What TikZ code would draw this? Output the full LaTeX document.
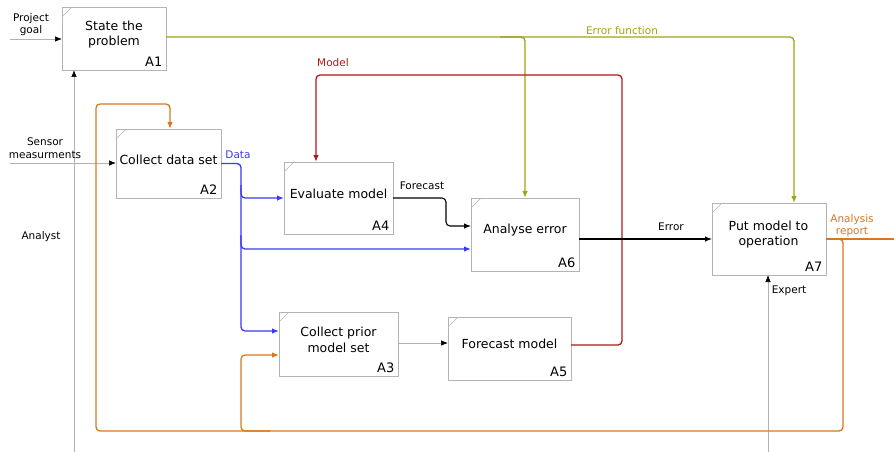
\documentclass[tikz,border=0pt]{standalone}
\usepackage{fontspec}
\setmainfont{DejaVu Sans}
\usetikzlibrary{arrows.meta}
\definecolor{olive2}{HTML}{A3A312}
\definecolor{orng}{HTML}{D9771F}
\definecolor{dred}{HTML}{B01A1A}
\definecolor{blu}{HTML}{3A3AF5}
\definecolor{boxgray}{HTML}{B4B4B4}
\begin{document}
\begin{tikzpicture}[x=1pt,y=-1pt,
  box/.style={draw=boxgray, line width=0.8pt, inner sep=0pt, outer sep=0pt, anchor=north west, fill=white},
  corner/.style={draw=boxgray, line width=0.5pt},
  ttl/.style={font=\fontsize{12.5}{15.5}\selectfont, align=center, inner sep=0pt},
  aid/.style={font=\fontsize{13}{15}\selectfont, anchor=south east, inner sep=3.5pt},
  lbl/.style={font=\fontsize{10.5}{12.7}\selectfont, align=center, inner sep=0pt},
  tip/.style={-{Latex[length=7pt,width=5.5pt]}},
  gline/.style={draw=gray!60, line width=0.7pt, -{Latex[length=7pt,width=5.5pt,black]}},
  cline/.style={line width=1.3pt, rounded corners=4pt, tip},
]
\useasboundingbox[fill=white] (0,0) rectangle (894,452);

% boxes
\node[box, minimum width=104pt, minimum height=63pt] (a1) at (62,7) {};
\node[box, minimum width=105pt, minimum height=69pt] (a2) at (116,129) {};
\node[box, minimum width=119pt, minimum height=64pt] (a3) at (279,312) {};
\node[box, minimum width=109pt, minimum height=72pt] (a4) at (284,162) {};
\node[box, minimum width=123pt, minimum height=63pt] (a5) at (448,317) {};
\node[box, minimum width=108pt, minimum height=73pt] (a6) at (471,198) {};
\node[box, minimum width=114pt, minimum height=72pt] (a7) at (712,203) {};

\foreach \b in {a1,a2,a3,a4,a5,a6,a7}{
  \draw[corner] ([yshift=-10pt]\b.north west) -- ([xshift=10pt]\b.north west);
}

\node[ttl] (a1t) at (114,34.7) {State the\\problem};
\node[ttl] (a2t) at (168.5,159.5) {Collect data set};
\node[ttl] (a3t) at (338.5,339.7) {Collect prior\\model set};
\node[ttl] (a4t) at (338.5,193.5) {Evaluate model};
\node[ttl] (a5t) at (509.5,343.5) {Forecast model};
\node[ttl] (a6t) at (525,230) {Analyse error};
\node[ttl] (a7t) at (768.5,234.7) {Put model to\\operation};

\node[aid] (a1id) at (a1.south east) {A1};
\node[aid] (a2id) at (a2.south east) {A2};
\node[aid] (a3id) at (a3.south east) {A3};
\node[aid] (a4id) at (a4.south east) {A4};
\node[aid] (a5id) at (a5.south east) {A5};
\node[aid] (a6id) at (a6.south east) {A6};
\node[aid] (a7id) at (a7.south east) {A7};

% free ends
\coordinate (pg) at (10,39);
\coordinate (sm) at (10,163);
\coordinate (an) at (74,452);
\coordinate (ex) at (768,452);
\coordinate (rep) at (894,239);

% gray inputs / mechanisms
\draw[gline] (pg) -- (a1.west |- pg);
\draw[gline] (sm) -- (a2.west |- sm);
\draw[gline] (an) -- (a1.south -| an);
\draw[gline] (ex) -- (a7.south -| ex);
\draw[gline] (a3.east |- 0,343) -- (a5.west |- 0,343);

% olive: error function
\draw[cline, olive2] (a1.east |- 0,37) -- (794,37) -- (a7.north -| 794,0);
\draw[cline, olive2] (500,37) -- (525,37) -- (a6.north);

% red: model
\draw[cline, dred] (a5.east |- 0,345) -- (622,345) -- (622,75) -- (316,75) -- (a4.north -| 316,0);

% blue: data
\draw[cline, blu] (a2.east) -- (241,163.5) -- (241,331) -- (a3.west |- 0,331);
\draw[cline, blu] (241,185) -- (241,198) -- (a4.west);
\draw[cline, blu] (241,235) -- (241,249) -- (a6.west |- 0,249);

% black: forecast, error
\draw[cline, black, line width=1.1pt] (a4.east) -- (446,198) -- (446,226) -- (a6.west |- 0,226);
\draw[black, line width=1.1pt, tip] (a6.east |- a7.west) -- (a7.west);

% orange: analysis report
\draw[orng, line width=1.3pt] (a7.east) -- (rep);
\draw[cline, orng] (a7.east) -- (843,239) -- (843,431) -- (96,431) -- (96,104) -- (170,104) -- (170,129);
\draw[cline, orng] (270,431) -- (241,431) -- (241,355) -- (a3.west |- 0,355);

% labels
\node[lbl] (lpg) at (31,24.5) {Project\\goal};
\node[lbl] (lsm) at (45,148) {Sensor\\measurments};
\node[lbl] (lan) at (41,237) {Analyst};
\node[lbl, text=blu] (ldata) at (238,155) {Data};
\node[lbl, text=dred] (lmodel) at (333,63) {Model};
\node[lbl] (lfc) at (422,186) {Forecast};
\node[lbl, text=olive2] (lef) at (622,31) {Error function};
\node[lbl] (lerr) at (671,227) {Error};
\node[lbl, text=orng] (lar) at (852,225.5) {Analysis\\report};
\node[lbl] (lex) at (789,291) {Expert};
\end{tikzpicture}
\end{document}
